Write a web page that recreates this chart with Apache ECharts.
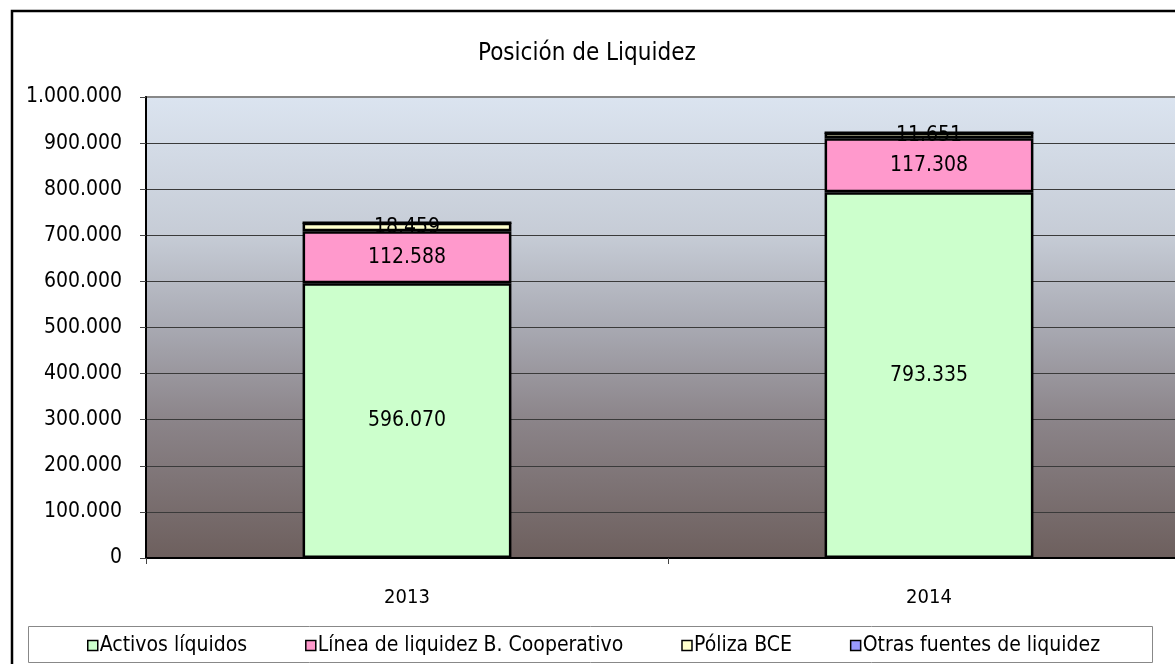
<!DOCTYPE html>
<html lang="es">
<head>
<meta charset="UTF-8">
<title>Posición de Liquidez</title>
<style>
  html, body { margin: 0; padding: 0; background: #fff; overflow: hidden; }
  /* the plot area runs past the right edge of the window, like the original */
  #chart { width: 1190px; height: 664px; }
</style>
<script src="https://cdn.jsdelivr.net/npm/echarts@6/dist/echarts.min.js"></script>
</head>
<body>
<div id="chart"></div>
<script>
var years = ['2013', '2014'];
var activos = [596070, 793335];
var lineaCoop = [112588, 117308];
var polizaBCE = [18459, 11651];
var otrasFuentes = [0, 0];
var yTicks = [0, 100000, 200000, 300000, 400000, 500000, 600000, 700000, 800000, 900000, 1000000];

var FONT = '"DejaVu Sans Condensed", "DejaVu Sans", sans-serif';

function fmt(v) {
    return String(v).replace(/\B(?=(\d{3})+(?!\d))/g, '.');
}

function barSeries(name, data, color, showLabel) {
    return {
        name: name,
        type: 'bar',
        stack: 'total',
        barWidth: '40%',
        data: data,
        itemStyle: { color: color, borderColor: '#000', borderWidth: 2.5 },
        label: {
            show: showLabel,
            position: 'inside',
            color: '#000',
            fontFamily: FONT,
            fontSize: 21,
            formatter: function (p) { return fmt(p.value); }
        }
    };
}

var myChart = echarts.init(document.getElementById('chart'));

var option = {
    animation: false,
    backgroundColor: '#fff',
    textStyle: { fontFamily: FONT },
    title: {
        text: 'Posición de Liquidez',
        left: 473,
        top: 37,
        textStyle: { fontFamily: FONT, fontSize: 24, fontWeight: 'normal', color: '#000' }
    },
    graphic: [{
        type: 'rect',
        shape: { x: 12, y: 11, width: 1250, height: 700 },
        style: { fill: null, stroke: '#000', lineWidth: 2.5 },
        z: 100
    }, {
        // legend frame
        type: 'rect',
        shape: { x: 28.5, y: 626.5, width: 1124, height: 36 },
        style: { fill: '#fff', stroke: '#888', lineWidth: 1 },
        z: 1
    }],
    grid: {
        left: 146,
        top: 97,
        right: 0,
        bottom: 106,
        show: true,
        borderColor: '#888',
        borderWidth: 2,
        backgroundColor: new echarts.graphic.LinearGradient(0, 0, 0, 1, [
            { offset: 0, color: '#dbe4f0' },
            { offset: 0.3, color: '#c6ccd6' },
            { offset: 0.5, color: '#a8a9b2' },
            { offset: 0.7, color: '#8b8489' },
            { offset: 1, color: '#6d5f5d' }
        ])
    },
    legend: {
        data: ['Activos líquidos', 'Línea de liquidez B. Cooperativo', 'Póliza BCE', 'Otras fuentes de liquidez'],
        left: 82,
        top: 630,
        icon: 'rect',
        itemWidth: 10,
        itemHeight: 10,
        itemGap: 58,
        padding: [5, 5, 5, 5],
        z: 5,
        itemStyle: { borderColor: '#000', borderWidth: 1.5 },
        textStyle: { fontFamily: FONT, fontSize: 21, color: '#000', padding: [0, 0, 0, -3] }
    },
    xAxis: {
        type: 'category',
        data: years,
        axisLine: { lineStyle: { color: '#000', width: 2 } },
        axisTick: { show: true, length: 6, lineStyle: { color: '#444' } },
        axisLabel: { color: '#000', fontFamily: FONT, fontSize: 20, margin: 30 }
    },
    yAxis: {
        type: 'value',
        min: yTicks[0],
        max: yTicks[yTicks.length - 1],
        interval: yTicks[1] - yTicks[0],
        axisLine: { show: true, lineStyle: { color: '#000', width: 2 } },
        axisTick: { show: true, length: 6, lineStyle: { color: '#444' } },
        splitLine: { showMaxLine: false, lineStyle: { color: '#3a3a3a', width: 1 } },
        axisLabel: {
            color: '#000',
            fontFamily: FONT,
            fontSize: 21,
            margin: 24,
            formatter: function (v) { return fmt(v); }
        }
    },
    series: [
        barSeries('Activos líquidos', activos, '#ccffcc', true),
        barSeries('Línea de liquidez B. Cooperativo', lineaCoop, '#ff99cc', true),
        barSeries('Póliza BCE', polizaBCE, '#ffffcc', true),
        barSeries('Otras fuentes de liquidez', otrasFuentes, '#9999ff', false)
    ]
};

myChart.setOption(option);
</script>
</body>
</html>
